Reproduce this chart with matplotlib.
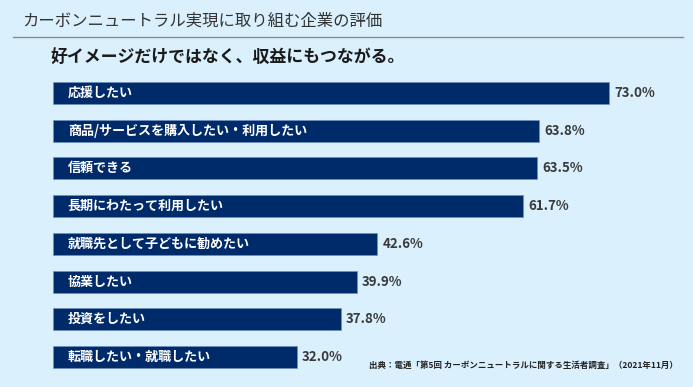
import matplotlib
matplotlib.use('Agg')
import matplotlib.pyplot as plt
from matplotlib.lines import Line2D

plt.rcParams['font.family'] = ['Noto Sans CJK JP', 'DejaVu Sans']

# data
labels = ['応援したい',
          '商品/サービスを購入したい・利用したい',
          '信頼できる',
          '長期にわたって利用したい',
          '就職先として子どもに勧めたい',
          '協業したい',
          '投資をしたい',
          '転職したい・就職したい']
values = [73.0, 63.8, 63.5, 61.7, 42.6, 39.9, 37.8, 32.0]

title = 'カーボンニュートラル実現に取り組む企業の評価'
subtitle = '好イメージだけではなく、収益にもつながる。'
source = '出典：電通「第5回 カーボンニュートラルに関する生活者調査」（2021年11月）'

bg = '#daf0fd'
navy = '#002b6b'

W, H = 693, 387
fig = plt.figure(figsize=(W / 100, H / 100), dpi=100, facecolor=bg)

# axes placed so bars line up with the reference (pixel coords)
ax_left, ax_right = 53, 683
ax_top, ax_bottom = 74.2, 375.8
ax = fig.add_axes([ax_left / W, 1 - ax_bottom / H,
                   (ax_right - ax_left) / W, (ax_bottom - ax_top) / H])
ax.set_facecolor(bg)

pos = list(range(len(values)))
ax.barh(pos, values, height=0.585, color=navy, edgecolor='#6f8fc0', linewidth=0.5)
ax.set_ylim(len(values) - 0.5, -0.5)
ax.set_xlim(0, (ax_right - ax_left) / 7.616)

for i, (lab, v) in enumerate(zip(labels, values)):
    ax.text(1.95, i, lab, color='white', fontsize=9.4, fontweight='bold',
            va='center', ha='left')
    ax.text(v + 0.7, i, f'{v:.1f}%', color='#3a3a3a', fontsize=9.6,
            fontweight='bold', va='center', ha='left')

for s in ax.spines.values():
    s.set_visible(False)
ax.set_xticks([])
ax.set_yticks([])

# header
fig.text(22 / W, 1 - 21 / H, title, fontsize=11.8, color='#333333',
         va='center', ha='left')
fig.add_artist(Line2D([13 / W, 683 / W], [1 - 37 / H, 1 - 37 / H],
                      color='#8a8a8a', linewidth=1.0, transform=fig.transFigure))
fig.text(50 / W, 1 - 57 / H, subtitle, fontsize=12.2, fontweight='bold',
         color='#1a1a1a', va='center', ha='left')

# source note
fig.text(678 / W, 1 - 365 / H, source, fontsize=6.1, fontweight='bold',
         color='#222222', va='center', ha='right')

fig.savefig('out.png', dpi=100, facecolor=bg)
